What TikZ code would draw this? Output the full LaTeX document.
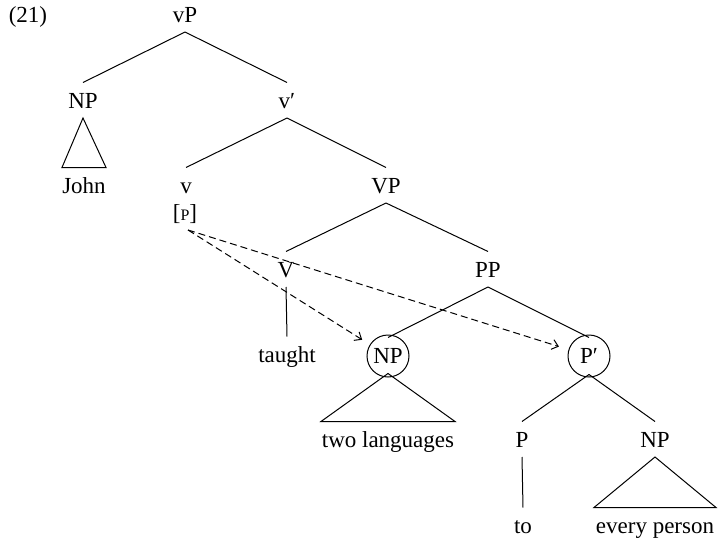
\documentclass[tikz,border=0pt]{standalone}
\usepackage{fontspec}
\setmainfont{Liberation Serif}
\usetikzlibrary{arrows.meta}

\begin{document}
\begin{tikzpicture}[x=1pt,y=-1pt,line width=1pt,
    lbl/.style={anchor=base,inner xsep=2pt,inner ysep=4pt,text height=21pt,text depth=5.5pt,font=\fontsize{23pt}{27pt}\selectfont},
    circ/.style={circle,draw,minimum size=42pt,inner sep=0pt,text height=15pt,text depth=0pt,font=\fontsize{23pt}{27pt}\selectfont},
    move/.style={-{Straight Barb[length=6pt,width=10pt]},dash pattern=on 7pt off 4pt}]
    \useasboundingbox (0,0) rectangle (724,541);

    \node[lbl] (ex) at (28,22) {(21)};
    \node[lbl] (vp) at (185,22) {vP};
    \node[lbl] (np1) at (83,108) {NP};
    \node[lbl] (vbar) at (287,108) {v′};
    \node[lbl] (john) at (84,193) {John};
    \node[lbl] (v) at (186,193) {v};
    \node[lbl] (vp2) at (386,193) {VP};
    \node[lbl] (feat) at (185,220) {[{\fontsize{16pt}{16pt}\selectfont P}]};
    \node[lbl] (vv) at (286,277) {V};
    \node[lbl] (pp) at (488,277) {PP};
    \node[lbl] (taught) at (287,362) {taught};
    \node[circ] (npc) at (388,356) {NP};
    \node[circ] (pbar) at (589,356) {P′};
    \node[lbl] (twolang) at (388,447) {two languages};
    \node[lbl] (p) at (522,447) {P};
    \node[lbl] (np3) at (655,447) {NP};
    \node[lbl] (to) at (523,533) {to};
    \node[lbl] (every) at (655,533) {every person};

    \draw (vp.south) -- (np1.north);
    \draw (vp.south) -- (vbar.north);
    \draw (vbar.south) -- (v.north);
    \draw (vbar.south) -- (vp2.north);
    \draw (vp2.south) -- (vv.north);
    \draw (vp2.south) -- (pp.north);
    \draw (vv.south) -- (taught.north);
    \draw (pp.south) -- ([yshift=-3pt]npc.north);
    \draw (pp.south) -- ([yshift=-3pt]pbar.north);
    \draw ([yshift=3pt]pbar.south) -- (p.north);
    \draw ([yshift=3pt]pbar.south) -- (np3.north);
    \draw (p.south) -- (to.north);

    \draw (np1.south) -- ([xshift=-22pt]john.north) -- ([xshift=22pt]john.north) -- cycle;
    \draw ([yshift=4pt]npc.south) -- ([xshift=-67pt]twolang.north) -- ([xshift=67pt]twolang.north) -- cycle;
    \draw (np3.south) -- ([xshift=-61pt]every.north) -- ([xshift=61pt]every.north) -- cycle;

    \draw[move,shorten >=9pt] ([xshift=3pt]feat.south) -- (npc);
    \draw[move,shorten >=10pt] ([xshift=3pt]feat.south) -- (pbar);
\end{tikzpicture}
\end{document}
